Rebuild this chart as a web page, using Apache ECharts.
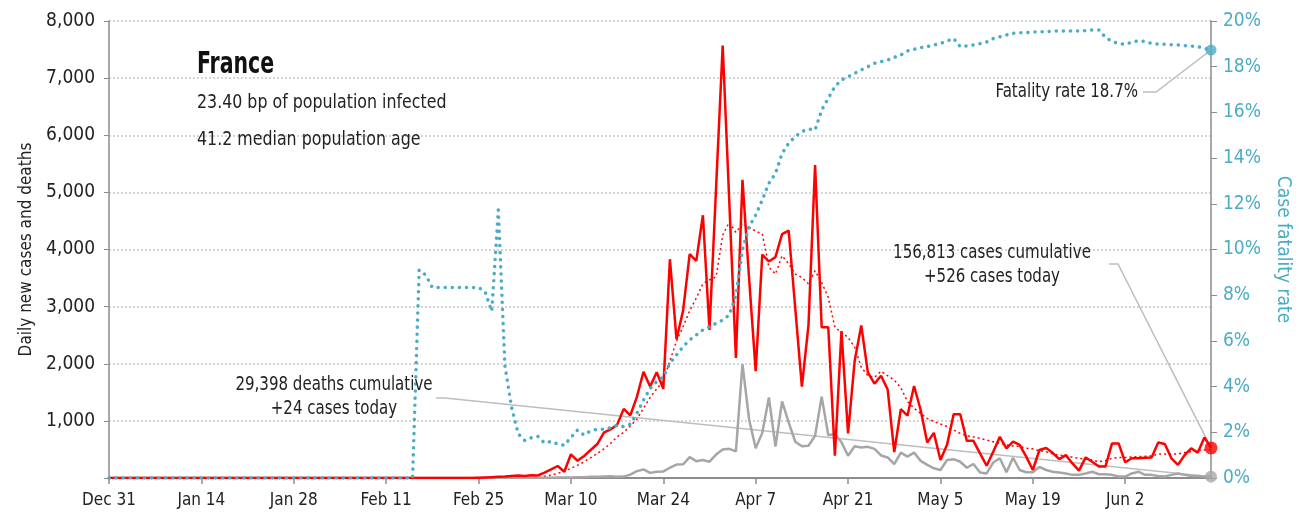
<!DOCTYPE html>
<html>
<head>
<meta charset="utf-8">
<script src="https://cdn.jsdelivr.net/npm/echarts@6/dist/echarts.min.js"></script>
<style>
  html, body { margin: 0; padding: 0; background: #fff; }
  #chart { width: 1307px; height: 518px; }
</style>
</head>
<body>
<div id="chart"></div>
<script>
// daily figures for France, Dec 31 .. Jun 15
var MONTHS = ['Jan', 'Feb', 'Mar', 'Apr', 'May', 'Jun', 'Jul', 'Aug', 'Sep', 'Oct', 'Nov', 'Dec'];
var dates = [];
for (var i = 0; i < 168; i++) {
    var d = new Date(Date.UTC(2019, 11, 31 + i));
    dates.push(MONTHS[d.getUTCMonth()] + ' ' + d.getUTCDate());
}

var newCases = [
    0, 0, 0, 0, 0, 0, 0, 0, 0, 0,
    0, 0, 0, 0, 0, 0, 0, 0, 0, 0,
    0, 0, 0, 0, 0, 0, 0, 0, 0, 0,
    0, 0, 0, 0, 0, 0, 0, 0, 0, 0,
    0, 0, 0, 0, 0, 0, 0, 0, 0, 0,
    0, 0, 0, 0, 0, 0, 5, 10, 15, 20,
    25, 35, 45, 35, 50, 45, 95, 150, 210, 110,
    415, 300, 385, 490, 595, 795, 850, 930, 1210, 1095,
    1420, 1860, 1600, 1850, 1560, 3830, 2430, 2930, 3920, 3800,
    4600, 2590, 5080, 7570, 4835, 2100, 5220, 3500, 1870, 3910,
    3790, 3870, 4270, 4330, 2970, 1600, 2670, 5480, 2640, 2640,
    390, 2570, 780, 2050, 2670, 1850, 1650, 1790, 1550, 455,
    1205, 1090, 1610, 1190, 620, 790, 315, 580, 1115, 1115,
    650, 650, 430, 215, 460, 720, 520, 635, 580, 375,
    140, 490, 525, 440, 330, 400, 255, 130, 360, 285,
    200, 200, 605, 605, 275, 345, 345, 355, 360, 620,
    595, 345, 230, 400, 520, 445, 710, 526
];

var casesAvg = [
    0, 0, 0, 0, 0, 0, 0, 0, 0, 0,
    0, 0, 0, 0, 0, 0, 0, 0, 0, 0,
    0, 0, 0, 0, 0, 0, 0, 0, 0, 0,
    0, 0, 0, 0, 0, 0, 0, 0, 0, 0,
    0, 0, 0, 0, 0, 0, 0, 0, 0, 0,
    0, 0, 0, 0, 0, 0, 0, 0, 0, 0,
    0, 0, 0, 0, 0, 10, 30, 50, 80, 120,
    170, 220, 285, 355, 430, 510, 605, 720, 800, 910,
    1030, 1220, 1410, 1560, 1700, 2050, 2400, 2650, 2930, 3150,
    3400, 3470, 3520, 4250, 4480, 4300, 4450, 4390, 4320, 4270,
    3690, 3570, 3890, 3750, 3570, 3510, 3400, 3630, 3420, 3160,
    2640, 2550, 2460, 2290, 1940, 1790, 1760, 1870, 1790, 1715,
    1580, 1340, 1220, 1130, 1040, 990, 945, 900, 840, 780,
    740, 720, 695, 665, 635, 605, 580, 560, 550, 520,
    510, 475, 460, 420, 400, 385, 365, 345, 330, 315,
    285, 305, 345, 360, 360, 370, 375, 380, 385, 420,
    420, 420, 420, 445, 460, 480, 490, 495
];

var newDeaths = [
    0, 0, 0, 0, 0, 0, 0, 0, 0, 0,
    0, 0, 0, 0, 0, 0, 0, 0, 0, 0,
    0, 0, 0, 0, 0, 0, 0, 0, 0, 0,
    0, 0, 0, 0, 0, 0, 0, 0, 0, 0,
    0, 0, 0, 0, 0, 0, 0, 0, 0, 0,
    0, 0, 0, 0, 0, 0, 0, 0, 0, 0,
    0, 0, 0, 0, 0, 0, 5, 5, 10, 10,
    10, 15, 15, 20, 20, 25, 30, 20, 25, 60,
    120, 150, 90, 110, 115, 180, 235, 240, 365, 295,
    315, 285, 410, 500, 510, 465, 1995, 1030, 520, 790,
    1410, 550, 1340, 975, 635, 555, 565, 740, 1425, 750,
    770, 625, 390, 555, 535, 545, 510, 395, 360, 245,
    445, 375, 445, 300, 230, 170, 140, 315, 330, 285,
    180, 245, 95, 80, 270, 345, 100, 355, 140, 100,
    100, 195, 140, 110, 95, 80, 55, 55, 80, 110,
    65, 65, 55, 25, 25, 80, 110, 55, 55, 35,
    25, 55, 80, 55, 35, 35, 25, 24
];

// case fatality rate, %
var fatalityRate = [
    0, 0, 0, 0, 0, 0, 0, 0, 0, 0,
    0, 0, 0, 0, 0, 0, 0, 0, 0, 0,
    0, 0, 0, 0, 0, 0, 0, 0, 0, 0,
    0, 0, 0, 0, 0, 0, 0, 0, 0, 0,
    0, 0, 0, 0, 0, 0, 0, 9.1, 8.88, 8.34,
    8.34, 8.34, 8.34, 8.34, 8.34, 8.34, 8.34, 8.15, 7.3, 11.73,
    4.9, 3.1, 1.94, 1.64, 1.76, 1.82, 1.53, 1.6, 1.49, 1.43,
    1.78, 2.1, 1.88, 2.07, 2.13, 2.13, 2.2, 2.3, 2.25, 2.36,
    2.83, 3.41, 3.92, 4.22, 4.43, 5.02, 5.38, 5.75, 6.04, 6.26,
    6.48, 6.62, 6.77, 6.91, 7.13, 8.0, 10.0, 11.0, 11.5, 12.17,
    12.9, 13.33, 14.2, 14.65, 14.94, 15.16, 15.27, 15.23, 16.1, 16.62,
    17.13, 17.42, 17.56, 17.71, 17.86, 18.0, 18.15, 18.22, 18.29, 18.41,
    18.51, 18.69, 18.76, 18.83, 18.88, 18.95, 19.02, 19.12, 19.24, 18.88,
    18.91, 18.95, 19.01, 19.08, 19.23, 19.31, 19.39, 19.46, 19.49, 19.49,
    19.52, 19.53, 19.53, 19.56, 19.56, 19.56, 19.56, 19.56, 19.58, 19.61,
    19.61, 19.29, 19.1, 19.02, 18.98, 19.07, 19.14, 19.1, 19.02, 18.99,
    18.98, 18.96, 18.95, 18.92, 18.9, 18.88, 18.8, 18.73
];

var leftTicks = [0, 8000, 1000];
var rightTicks = [0, 20, 2];

var FONT = '"Liberation Sans Narrow", "DejaVu Sans Condensed", sans-serif';
var RED = '#ff0000';
var GRAY = '#a6a6a6';
var BLUE = '#4bacc6';
var INK = '#222222';
var last = dates.length - 1;

var chart = echarts.init(document.getElementById('chart'), null, { renderer: 'canvas' });

// note text, squeezed a bit to look like the condensed face of the original
function note(x, y, text, align, size, sx) {
    return {
        type: 'text', x: x, y: y, scaleX: sx || 0.88, z: 10,
        style: { text: text, font: (size || 19) + 'px ' + FONT, fill: INK, align: align, verticalAlign: 'middle' }
    };
}

var option = {
    animation: false,
    backgroundColor: '#ffffff',
    textStyle: { fontFamily: FONT },
    grid: { left: 109, right: 96, top: 21, bottom: 40 },
    xAxis: {
        type: 'category',
        data: dates,
        boundaryGap: false,
        axisLine: { lineStyle: { color: '#8c8c8c', width: 2 } },
        axisTick: { interval: 13, length: 6, lineStyle: { color: '#8c8c8c', width: 1.5 } },
        axisLabel: { interval: 13, color: INK, fontSize: 17, margin: 14, fontFamily: FONT },
        splitLine: { show: false }
    },
    yAxis: [{
        type: 'value',
        min: leftTicks[0],
        max: leftTicks[1],
        interval: leftTicks[2],
        name: 'Daily new cases and deaths',
        nameLocation: 'middle',
        nameGap: 70,
        nameTextStyle: { color: INK, fontSize: 17, fontFamily: FONT },
        axisLine: { show: true, lineStyle: { color: '#8c8c8c', width: 1.5 } },
        axisTick: { show: true, length: 5, lineStyle: { color: '#8c8c8c' } },
        axisLabel: {
            color: INK, fontSize: 19, margin: 14, fontFamily: FONT,
            formatter: function (v) { return v === 0 ? '' : v.toLocaleString('en-US'); }
        },
        splitLine: { show: true, lineStyle: { color: '#c8c8c8', type: [2, 2], width: 1.5 } }
    }, {
        type: 'value',
        min: rightTicks[0],
        max: rightTicks[1],
        interval: rightTicks[2],
        name: 'Case fatality rate',
        nameLocation: 'middle',
        nameGap: 62,
        nameRotate: -90,
        nameTextStyle: { color: BLUE, fontSize: 19, fontFamily: FONT },
        axisLine: { show: true, lineStyle: { color: '#8c8c8c', width: 1.5 } },
        axisTick: { show: true, length: 6, lineStyle: { color: '#8c8c8c' } },
        axisLabel: { color: BLUE, fontSize: 19, margin: 12, formatter: '{value}%', fontFamily: FONT },
        splitLine: { show: false }
    }],
    series: [{
        name: 'Average',
        type: 'line',
        data: casesAvg,
        symbol: 'none',
        lineStyle: { color: RED, width: 1.5, type: [2, 3] },
        z: 2
    }, {
        name: 'Deaths',
        type: 'line',
        data: newDeaths,
        symbol: 'none',
        lineStyle: { color: GRAY, width: 2.5 },
        z: 3
    }, {
        name: 'Cases',
        type: 'line',
        data: newCases,
        symbol: 'none',
        lineStyle: { color: RED, width: 2.5 },
        z: 4
    }, {
        name: 'Fatality rate',
        type: 'line',
        yAxisIndex: 1,
        data: fatalityRate,
        symbol: 'none',
        lineStyle: { color: BLUE, width: 3.5, type: [0.1, 7], cap: 'round' },
        z: 5
    }, {
        name: 'endCases',
        type: 'scatter',
        data: [[last, newCases[last]]],
        symbolSize: 13,
        itemStyle: { color: RED },
        z: 6
    }, {
        name: 'endDeaths',
        type: 'scatter',
        data: [[last, newDeaths[last]]],
        symbolSize: 12,
        itemStyle: { color: GRAY },
        z: 6
    }, {
        name: 'endRate',
        type: 'scatter',
        yAxisIndex: 1,
        data: [[last, fatalityRate[last]]],
        symbolSize: 11,
        itemStyle: { color: BLUE },
        z: 6
    }],
    graphic: [
        {
            type: 'text', x: 197, y: 65, scaleX: 0.76, z: 10,
            style: { text: 'France', font: 'bold 30px ' + FONT, fill: '#111', verticalAlign: 'middle' }
        },
        note(197, 103, '23.40 bp of population infected', 'left', 20),
        note(197, 140, '41.2 median population age', 'left', 20),
        note(1138, 92, 'Fatality rate 18.7%', 'right', 19),
        note(992, 253, '156,813 cases cumulative', 'center', 19),
        note(992, 277, '+526 cases today', 'center', 19),
        note(334, 385, '29,398 deaths cumulative', 'center', 19),
        note(334, 409, '+24 cases today', 'center', 19)
    ]
};
chart.setOption(option);

// leader lines from the notes to the last points
var pRate = chart.convertToPixel({ seriesIndex: 3 }, [last, fatalityRate[last]]);
var pCases = chart.convertToPixel({ seriesIndex: 2 }, [last, newCases[last]]);
var pDeaths = chart.convertToPixel({ seriesIndex: 1 }, [last, newDeaths[last]]);
var leader = { stroke: '#bdbdbd', lineWidth: 1.5, fill: null };
option.graphic.push(
    { type: 'polyline', z: 1, shape: { points: [[1143, 92], [1156, 92], pRate] }, style: leader },
    { type: 'polyline', z: 1, shape: { points: [[1109, 264], [1118, 264], pCases] }, style: leader },
    { type: 'polyline', z: 1, shape: { points: [[436, 398], [445, 398], pDeaths] }, style: leader }
);
chart.setOption({ graphic: option.graphic });
</script>
</body>
</html>
